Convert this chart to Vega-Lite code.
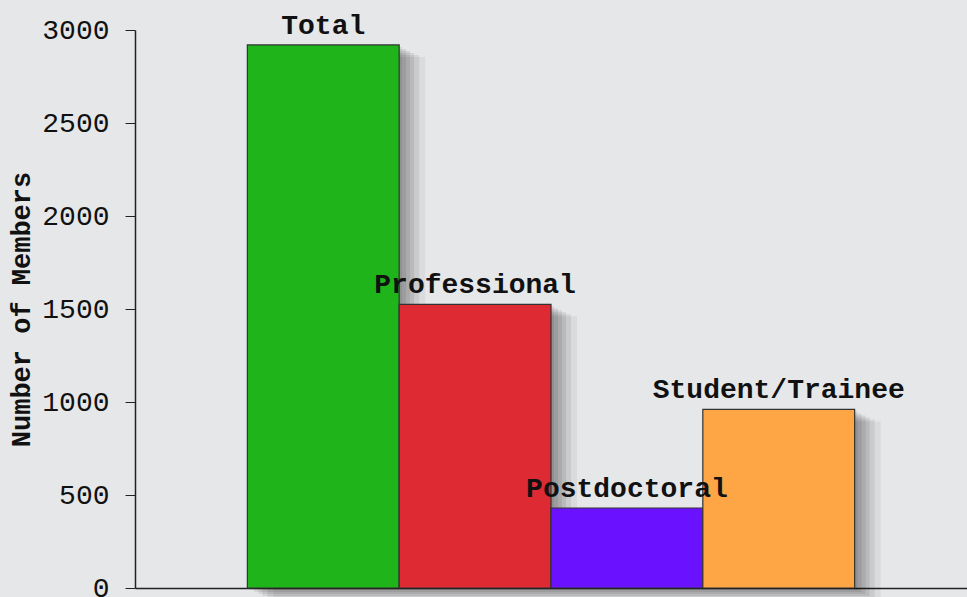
{
  "$schema": "https://vega.github.io/schema/vega-lite/v6.json",
  "width": 832,
  "height": 558,
  "autosize": {"type": "none"},
  "padding": {"left": 135, "top": 30, "right": 0, "bottom": 9},
  "background": "#e6e7e9",
  "config": {"view": {"stroke": null}, "axis": {"grid": false}},
  "data": {"values": [
    {"category": "Total", "members": 2920},
    {"category": "Professional", "members": 1525},
    {"category": "Postdoctoral", "members": 430},
    {"category": "Student/Trainee", "members": 960}
  ]},
  "encoding": {
    "x": {"field": "category", "type": "nominal", "sort": null,
      "scale": {"paddingInner": 0, "paddingOuter": 0.74},
      "axis": {"title": null, "labels": false, "ticks": false, "domainColor": "#222", "domainWidth": 1.5}},
    "y": {"field": "members", "type": "quantitative",
      "scale": {"domain": [0, 3000], "nice": false},
      "axis": {"values": [0, 500, 1000, 1500, 2000, 2500, 3000], "format": "d", "title": "Number of Members",
        "titleFont": "Liberation Mono", "titleFontSize": 27, "titleFontWeight": "bold", "titleColor": "#111", "titlePadding": 6,
        "labelFont": "Liberation Mono", "labelFontSize": 28, "labelColor": "#111", "labelPadding": 16,
        "tickSize": 10, "tickColor": "#222", "domainColor": "#222", "domainWidth": 1.5}}
  },
  "layer": [
    {"mark": {"type": "bar", "fill": "#000", "opacity": 0.08, "xOffset": 3, "yOffset": 2}},
    {"mark": {"type": "bar", "fill": "#000", "opacity": 0.08, "xOffset": 7, "yOffset": 4}},
    {"mark": {"type": "bar", "fill": "#000", "opacity": 0.08, "xOffset": 11, "yOffset": 6}},
    {"mark": {"type": "bar", "fill": "#000", "opacity": 0.08, "xOffset": 15, "yOffset": 8}},
    {"mark": {"type": "bar", "fill": "#000", "opacity": 0.07, "xOffset": 20, "yOffset": 10}},
    {"mark": {"type": "bar", "fill": "#000", "opacity": 0.05, "xOffset": 26, "yOffset": 12}},
    {"mark": {"type": "bar", "stroke": "#333", "strokeWidth": 1.2},
      "encoding": {"color": {"field": "category", "type": "nominal", "legend": null,
        "scale": {"domain": ["Total", "Professional", "Postdoctoral", "Student/Trainee"],
          "range": ["#1fb51a", "#de2a33", "#6a12ff", "#fea545"]}}}},
    {"mark": {"type": "text", "font": "Liberation Mono", "fontSize": 28, "fontWeight": "bold", "color": "#111", "baseline": "alphabetic", "dy": -11},
      "encoding": {"text": {"field": "category"}}}
  ]
}
